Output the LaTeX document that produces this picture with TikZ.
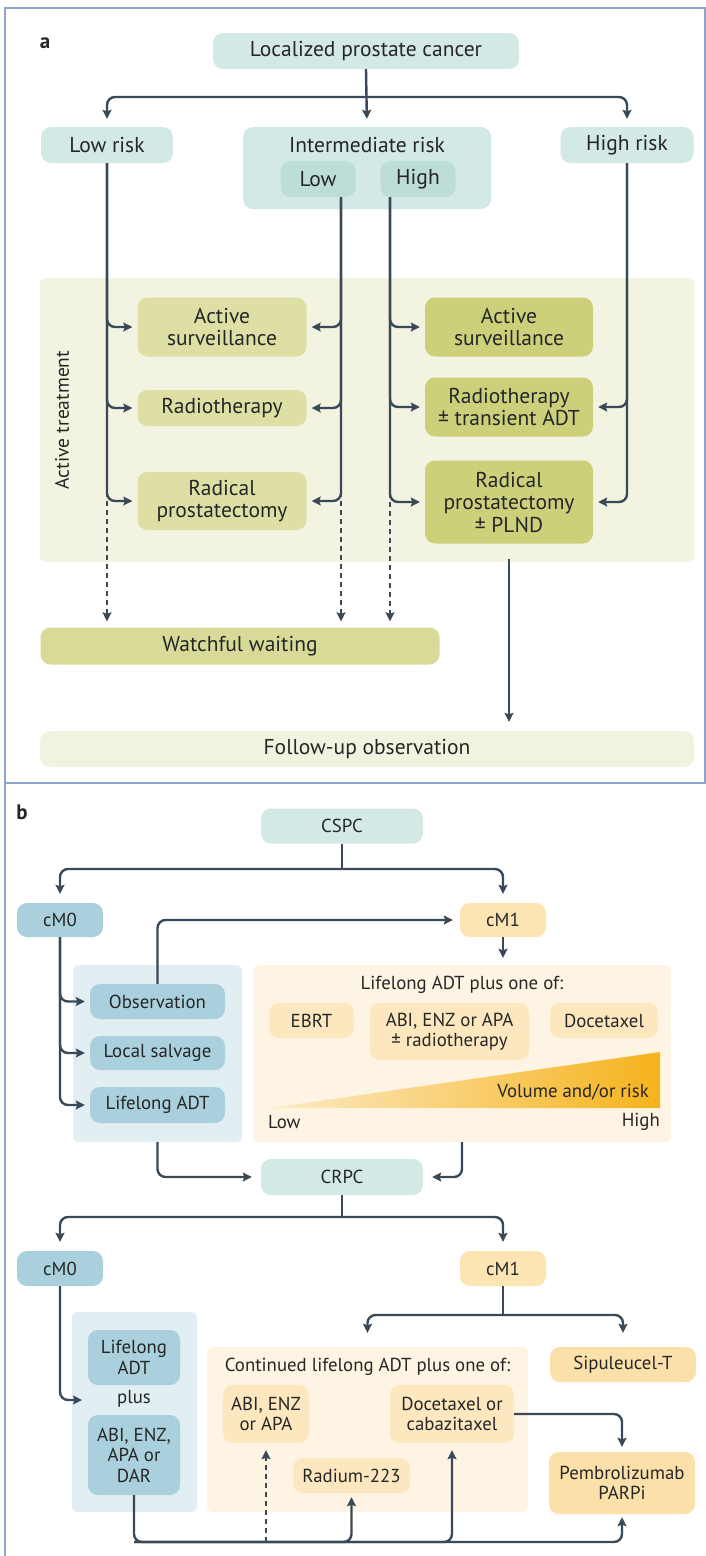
\documentclass[tikz,border=0pt]{standalone}
\usepackage{fontspec}
\setmainfont{PT Sans}
\usetikzlibrary{arrows.meta,calc}
\definecolor{tealbox}{HTML}{D3E9E5}
\definecolor{tealdark}{HTML}{BCDDD8}
\definecolor{regy}{HTML}{F3F3E1}
\definecolor{olivel}{HTML}{DDDFA5}
\definecolor{olived}{HTML}{CCD07B}
\definecolor{watchc}{HTML}{D8DA98}
\definecolor{follc}{HTML}{F2F2E0}
\definecolor{blueb}{HTML}{A9D0DC}
\definecolor{bluereg}{HTML}{E1EEF2}
\definecolor{cmone}{HTML}{FCE4B3}
\definecolor{orreg}{HTML}{FEF4E3}
\definecolor{orin}{HTML}{FCE7BF}
\definecolor{orbox}{HTML}{FBE1A9}
\definecolor{gradr}{HTML}{F5B31C}
\definecolor{gradl}{HTML}{FCEBC6}
\definecolor{linec}{HTML}{3A4957}
\definecolor{txtc}{HTML}{262626}
\definecolor{framec}{HTML}{8EA5CF}
\tikzset{
  bx/.style={rounded corners=10pt, align=center, inner sep=0pt},
  reg/.style={rounded corners=6pt, inner sep=0pt},
  arr/.style={draw=linec, line width=2.4pt, -{Stealth[length=9pt,width=9pt,inset=1.5pt]}, rounded corners=8pt, shorten >=5pt},
  dsharr/.style={arr, dash pattern=on 5pt off 4pt},
  plainln/.style={draw=linec, line width=2.4pt},
  lbl/.style={inner sep=0pt}
}
\begin{document}
\begin{tikzpicture}[x=1pt,y=-1pt, every node/.style={font=\fontsize{21.5}{22.5}\selectfont, text=txtc}]
\useasboundingbox (0,0) rectangle (706,1556);
\fill[white] (0,0) rectangle (706,1556);
% frame
\draw[framec, line width=1.4pt] (5,1556) -- (5,8) -- (705,8) -- (705,783) -- (5,783);
% ---------------- panel a ----------------
\node[lbl, font=\fontsize{21}{22}\selectfont\bfseries] (la) at (45,43) {a};
\node[bx, fill=tealbox, minimum width=306pt, minimum height=36pt] (lpc) at (366,51) {Localized prostate cancer};
\node[bx, fill=tealbox, minimum width=132pt, minimum height=36pt] (lowrisk) at (107,145) {Low risk};
\node[bx, fill=tealbox, minimum width=248pt, minimum height=82pt] (int) at (367,168) {};
\node[lbl] (inttxt) at (367,145) {Intermediate risk};
\node[bx, fill=tealdark, minimum width=75pt, minimum height=36pt] (intlow) at (318,179) {Low};
\node[bx, fill=tealdark, minimum width=75pt, minimum height=36pt] (inthigh) at (418,179) {High};
\node[bx, fill=tealbox, minimum width=133pt, minimum height=36pt] (highrisk) at (627,145) {High risk};
\node[reg, fill=regy, minimum width=654pt, minimum height=284pt] (act) at (367,420) {};
\node[lbl, rotate=90, font=\fontsize{19.5}{22}\selectfont] (acttxt) at (62,420) {Active treatment};
\node[bx, fill=olivel, minimum width=169pt, minimum height=59pt] (as1) at (222,327) {Active\\surveillance};
\node[bx, fill=olivel, minimum width=169pt, minimum height=36pt] (rt1) at (222,408) {Radiotherapy};
\node[bx, fill=olivel, minimum width=169pt, minimum height=58pt] (rp1) at (222,501) {Radical\\prostatectomy};
\node[bx, fill=olived, minimum width=168pt, minimum height=59pt] (as2) at (509,327) {Active\\surveillance};
\node[bx, fill=olived, minimum width=168pt, minimum height=59pt] (rt2) at (509,407) {Radiotherapy\\± transient ADT};
\node[bx, fill=olived, minimum width=168pt, minimum height=83pt] (rp2) at (509,502) {Radical\\prostatectomy\\± PLND};
\node[bx, fill=watchc, minimum width=399pt, minimum height=37pt] (ww) at (240,646) {Watchful waiting};
\node[bx, fill=follc, minimum width=654pt, minimum height=36pt] (fu) at (367,749) {Follow-up observation};
% connectors a
\coordinate (ja) at (367,97);
\draw[arr, shorten >=8pt] (lpc.south) -- (int.north);
\draw[arr, shorten >=8pt] (ja) -| (lowrisk.north);
\draw[arr, shorten >=8pt] (ja) -| (highrisk.north);
\draw[arr] (lowrisk.south) |- (as1.west);
\draw[arr] (lowrisk.south) |- (rt1.west);
\draw[arr] (lowrisk.south) |- (rp1.west);
\coordinate (il) at ([xshift=23pt]intlow.south);
\coordinate (ih) at ([xshift=-28pt]inthigh.south);
\draw[arr] (il) |- (as1.east);
\draw[arr] (il) |- (rt1.east);
\draw[arr] (il) |- (rp1.east);
\draw[arr] (ih) |- (as2.west);
\draw[arr] (ih) |- (rt2.west);
\draw[arr] (ih) |- (rp2.west);
\draw[arr] (highrisk.south) |- (rt2.east);
\draw[arr] (highrisk.south) |- (rp2.east);
\draw[dsharr, shorten >=6pt] ([yshift=9pt]lowrisk.south |- rp1.west) -- (lowrisk.south |- ww.north);
\draw[dsharr, shorten >=6pt] ([yshift=9pt]il |- rp1.east) -- (il |- ww.north);
\draw[dsharr, shorten >=6pt] ([yshift=9pt]ih |- rp2.west) -- (ih |- ww.north);
\draw[arr, shorten >=9pt] ([yshift=3pt]rp2.south |- act.south) -- (rp2.south |- fu.north);
% ---------------- panel b ----------------
\begin{scope}[every node/.style={font=\fontsize{18.8}{20.5}\selectfont, text=txtc}]
\node[lbl, font=\fontsize{21}{22}\selectfont\bfseries] (lb) at (22,812) {b};
\node[bx, fill=tealbox, minimum width=162pt, minimum height=35pt] (cspc) at (342,826) {CSPC};
\node[bx, fill=blueb, minimum width=86pt, minimum height=34pt] (cm0a) at (60,920) {cM0};
\node[bx, fill=cmone, minimum width=86pt, minimum height=34pt] (cm1a) at (503,920) {cM1};
\node[reg, fill=bluereg, minimum width=169pt, minimum height=177pt] (r1) at (157.5,1053.5) {};
\node[bx, fill=blueb, minimum width=135pt, minimum height=35pt] (obs) at (157.5,1001.5) {Observation};
\node[bx, fill=blueb, minimum width=135pt, minimum height=34pt] (ls) at (157.5,1053) {Local salvage};
\node[bx, fill=blueb, minimum width=135pt, minimum height=36pt] (ladt) at (157.5,1105) {Lifelong ADT};
\node[reg, fill=orreg, minimum width=418pt, minimum height=177pt] (r2) at (462,1053.5) {};
\node[lbl] (r2txt) at (462,985) {Lifelong ADT plus one of:};
\node[bx, fill=orin, minimum width=85pt, minimum height=35pt] (ebrt) at (311.5,1020.5) {EBRT};
\node[bx, fill=orin, minimum width=159pt, minimum height=57pt] (abi1) at (449.5,1031.5) {ABI, ENZ or APA\\± radiotherapy};
\node[bx, fill=orin, minimum width=108pt, minimum height=35pt] (doc1) at (604,1020.5) {Docetaxel};
\shade[left color=gradl, right color=gradr] (270,1108) -- (660,1052) -- (660,1108) -- cycle;
\node[lbl, anchor=east] (vol) at (649,1092) {Volume and/or risk};
\node[lbl, anchor=west] (lowl) at (268,1122) {Low};
\node[lbl, anchor=east] (highl) at (660,1122) {High};
\node[bx, fill=tealbox, minimum width=162pt, minimum height=36pt] (crpc) at (342,1177) {CRPC};
\node[bx, fill=blueb, minimum width=86pt, minimum height=35pt] (cm0b) at (60,1268.5) {cM0};
\node[bx, fill=cmone, minimum width=86pt, minimum height=35pt] (cm1b) at (503,1268.5) {cM1};
\node[reg, fill=bluereg, minimum width=125pt, minimum height=200pt] (r3) at (134.5,1412) {};
\node[bx, fill=blueb, minimum width=92pt, minimum height=55pt] (ladt2) at (134,1357.5) {Lifelong\\ADT};
\node[lbl] (plus) at (134,1399) {plus};
\node[bx, fill=blueb, minimum width=92pt, minimum height=80pt] (abi2) at (134,1455) {ABI, ENZ,\\APA or\\DAR};
\node[reg, fill=orreg, minimum width=321pt, minimum height=165pt] (r4) at (367.5,1429.5) {};
\node[lbl] (r4txt) at (367.5,1367) {Continued lifelong ADT plus one of:};
\node[bx, fill=orin, minimum width=86pt, minimum height=58pt] (abi3) at (266,1414) {ABI, ENZ\\or APA};
\node[bx, fill=orin, minimum width=124pt, minimum height=58pt] (doc2) at (452,1414) {Docetaxel or\\cabazitaxel};
\node[bx, fill=orin, minimum width=117pt, minimum height=35pt] (rad) at (351.5,1475.5) {Radium-223};
\node[bx, fill=orbox, minimum width=146pt, minimum height=35pt] (sip) at (623,1364.5) {Sipuleucel-T};
\node[bx, fill=orbox, minimum width=146pt, minimum height=62pt] (pem) at (622,1483) {Pembrolizumab\\PARPi};
\end{scope}
% connectors b
\coordinate (jb) at (342,869);
\draw[plainln] (cspc.south) -- (jb);
\draw[arr, shorten >=9pt] (jb) -| (cm0a.north);
\draw[arr, shorten >=9pt] (jb) -| (cm1a.north);
\draw[arr] (cm0a.south) |- (obs.west);
\draw[arr] (cm0a.south) |- (ls.west);
\draw[arr] (cm0a.south) |- (ladt.west);
\draw[arr, shorten >=7pt] (obs.north) |- (cm1a.west);
\draw[arr, shorten >=7pt] (cm1a.south) -- (cm1a.south |- r2.north);
\draw[arr, shorten >=9pt] (r1.south) |- (crpc.west);
\draw[arr, shorten >=9pt] (r2.south) |- (crpc.east);
\coordinate (jc) at (342,1217);
\draw[plainln] (crpc.south) -- (jc);
\draw[arr, shorten >=9pt] (jc) -| (cm0b.north);
\draw[arr, shorten >=9pt] (jc) -| (cm1b.north);
\coordinate (pl) at (82,1400);
\draw[arr, shorten >=0pt] (cm0b.south) |- (pl);
\coordinate (jd) at (503,1315);
\draw[plainln] (cm1b.south) -- (jd);
\draw[arr, shorten >=14pt] (jd) -| (r4.north);
\draw[arr, shorten >=14pt] (jd) -| (sip.north);
\draw[arr] (doc2.east) -| (pem.north);
\coordinate (bl) at (134,1542);
\draw[arr, shorten >=3pt] (abi2.south) -- (bl) -| (pem.south);
\draw[arr, shorten >=4pt] (bl) -| (rad.south);
\draw[arr, shorten >=7pt] (bl) -| (doc2.south);
\draw[dsharr, shorten >=7pt] (abi3.south |- bl) -- (abi3.south);
\end{tikzpicture}
\end{document}
